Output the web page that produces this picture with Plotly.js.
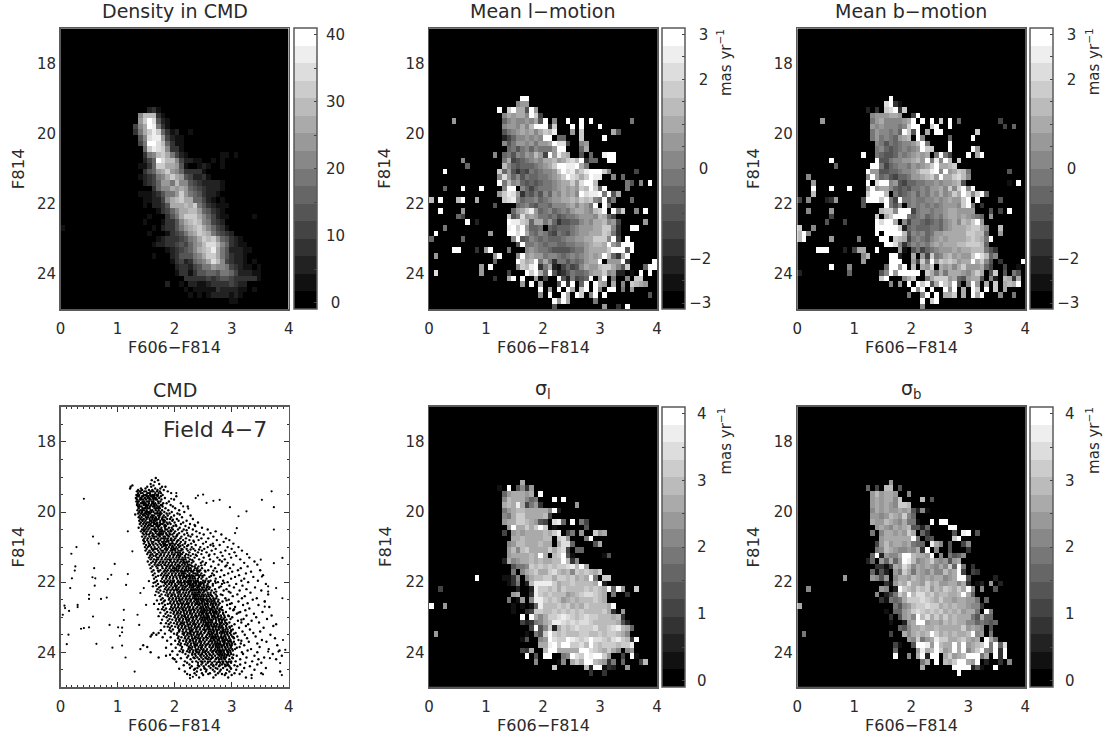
<!DOCTYPE html>
<html><head><meta charset="utf-8">
<script src="https://cdn.plot.ly/plotly-3.0.1.min.js"></script>
<style>html,body{margin:0;padding:0;background:#fff}</style></head>
<body><div id="chart" style="width:1113px;height:740px"></div>
<script>
// Each map row (0 = top): tokens alternate start column, then one hex digit per cell (grey band 0-15).
const densityRows = {14:"19 2310",15:"17 8bbb31",16:"17 9cfd521",17:"16 48afe731",18:"16 37acec631 25 2 28 1",19:"17 58dee94211",20:"17 47ffdb63 25 11",21:"18 6cedc8331",22:"18 378bca7421 35 1 36 1 38 1",23:"18 246fdbb842 28 2 29 11 33 1 35 1",
24:"17 113 20 6ccaa9 26 51 30 121 35 1",25:"18 3569ac98633331",
26:"17 12347 22 8aca9 27 54 29 2231",
27:"18 23469 23 97b8 27 85432222 35 1",
28:"20 3688a9a9 28 654 31 32221",
29:"17 1112357 24 79c97 29 6 30 53221",
30:"18 1122 22 48abcaa6 30 642 33 1 35 1",
31:"18 1 20 223 23 5aaaba 29 c75 32 32 34 111",
32:"21 1346 25 8aabb 30 96532 35 1",
33:"19 1 23 357 26 accca 31 8642 35 11 42 1",
34:"18 1 22 1335 26 8abcb 31 8743 35 2",
35:"0 1 20 1 22 2335 26 79abca 32 86 34 431",
36:"19 1 23 134 26 579ac 31 ba 33 75432",
37:"21 123334 27 578ac 32 bc 34 96532 39 1",
38:"20 1223 24 345 27 468 30 9bddb 35 863211",
39:"23 12345 28 68abc 33 ea 35 7522211",
40:"20 1 24 23555 29 78acc 34 a753221",
41:"24 13423 29 678ad 34 b84322 40 1 42 1",
42:"25 2332 29 45779 34 88 36 743211 43 1",
43:"25 1331 29 35566 34 577 37 6422 41 211",
44:"27 333334 33 34554 38 333331",
45:"23 2 26 1 28 2211 32 23333 37 43 39 22",
46:"27 1 29 11111 34 3222 38 211 42 1",
47:"28 1 30 1 32 12222 37 121",
48:"37 11"};
const meanLRows = {12:"20 ff",13:"19 899",14:"15 f0cfaa5f9",15:"16 8a9aa8fc4",16:"5 9 16 6898898a5f 27 8 30 f 33 f 35 f 44 7",17:"16 8998a8bfff3c 31 f 33 f 37 f",18:"16 5789a9a8acbe 31 9 33 c 40 a5",19:"16 246889898ff066 33 c 38 f",20:"16 8579989799afdd4 33 89",21:"17 67578687779f 29 f 33 6a",22:"14 806758798b94f9eba 33 506 38 eff",
23:"7 8 16 7a4567898aab9acdbf366 39 ff",24:"8 6 16 b865666789acffeefa7",
25:"3 f 15 c695354767889cfdeacefffc8 45 4",
26:"15 8d96857667789acfdcacfee 40 8 42 6",
27:"15 f7b89656567789aac9dffb 43 75 46 8 48 f",
28:"3 6 7 f 11 f 16 8ff0864677789a9a9cbfc6f 43 7",
29:"15 9ced9365758698a9a8fdeef7f5a",
30:"0 b 2 f 6 b 7 f 10 a 16 cde8677867899aabacbc87f47 44 6",
31:"14 5 19 678657768889a8a97f0f7",
32:"2 f 7 9 18 69ace967867879aa98bcf0f7c 45 8 47 f",
33:"6 64 17 c57d9a97767567789998ba64",
34:"8 f 10 2 17 feecb6aa79635566898aab894 47 9",
35:"3 7 17 efcf966706566678999aacc83 44 ff",
36:"1 f 13 9 17 ffdfa7687547657899aaacb73",
37:"0 6 7 6 18 8f56876766678899aaccc8f4 43 f",
38:"19 5f77876776677889abbaf97fff",
39:"5 ff 10 3 12 9f 17 7 21 89877655556779aaaacfff5f",
40:"1 9 14 9 15 f 19 8f9a997887678789a9afb63af",
41:"14 6 19 fcabf7a737757679aaf09 40 99f3 49 f",
42:"11 9 13 f 19 8cbef37a2146458a99bcca85c 47 6ff",
43:"1 d 11 9 17 4 21 fcfa6f52357667 35 9aac8922 44 1 46 f 48 f",
44:"14 3 17 af 20 f 23 9 25 4 27 0f52745 34 6f 37 9f 40 7 43 8 45 cc",
45:"20 9 22 f 24 a 27 0 28 5f 30 3f 33 6f 36 fa9 40 a 42 8 44 cba9",
46:"24 f 26 9 27 0f 30 f 31 a 33 cf 36 f8 39 ff 42 7 44 9",
47:"24 8 26 f 28 0f 30 a 32 fc 35 8f 38 f 48 5",
48:"27 f 28 9 29 f 30 a 36 7",
49:"27 5 38 9 41 3 43 f"};
const meanBRows = {12:"20 f",13:"19 df31",14:"15 2 17 3 19 cdf3 23 c",15:"16 8999aa9 25 4f",
16:"5 9 16 79a88889af0f 27 f 29 f 31 c 33 f 35 6 44 4",
17:"16 98988878cf 26 f 29 cf 33 f 45 4 47 6",
18:"16 7988786fc5f 28 a 30 ff 39 c",
19:"16 7978769ab0f8 33 6 38 f",
20:"17 875767889bf9 28 7 33 f",
21:"17 7865678789fcc 33 f 38 f9",
22:"14 f 17 765568789a9a07f7 33 4 37 f 39 af",
23:"7 f 16 0f5578899ab9f7e8fb9 34 0c",
24:"8 6 16 ff7467887989acfb 31 aab 34 c",
25:"15 f9955667889acc 29 ef8f9acb7 46 5",
26:"2 8 15 8f9675466799abc9faacdb8",
27:"3 9 15 f0dff 20 89 22 5466778 29 89899ab5 46 1 48 f",
28:"3 f 7 f 11 f 15 9f9aa 20 865657 26 78799a8c8cf8f",
29:"3 b 15 cfffb07567 25 86 27 87 29 98a89cafc8cf 41 6",
30:"0 4 2 8 6 23 8 9 14 5 15 fffcf 20 74f778 26 7 27 788989a99cf0f 44 5",
31:"14 5 19 f758078 26 7878 30 7899 34 98cf7 40 3",
32:"2 8 7 9 18 bcc8fff 25 478 28 878 31 89aa9 36 999 42 5 44 4 46 f",
33:"7 4 17 c0acfff76 26 786 29 7 30 87 32 9aa9a9876 42 9",
34:"6 5 10 4 17 fdffa08 24 4776 28 5676 32 89a8bacf9",
35:"0 c 3 8 17 fffffc26 25 76 27 6677 31 6 32 89aaabcca8 44 b",
36:"0 bf8 17 f0ffff 23 b58 26 78 28 679 31 9aaaaaccbb6 44 9",
37:"0 bf 7 9 13 7 18 ff0cb 23 a47 26 876 29 89a 32 9aaaabcba7f",
38:"19 ffd83 24 687 27 87 29 9a9 32 aaabbcccb6",
39:"4 fff 10 2 12 4 13 aa 17 f 22 91 25 57467 30 89 32 99a9aabbb753",
40:"14 8b 20 ff2 25 a09 28 4c7 31 8ab9a99cfdb68",
41:"14 9 20 fff 25 94 27 c7f 30 9cbcb9aafac85 44 3 49 f",
42:"7 f 11 8 19 6ff 22 9f 25 b0 27 a9c0 31 a9a8ac99 39 9a64 43 0 45 4 48 1",
43:"0 2 11 6 18 58f 21 9ff 24 ff 26 f0ca7 31 a7aaa98 38 aca 42 5c 45 5 47 75",
44:"17 0cf 23 8ac 27 07accc 33 9a65 37 9aa5 42 82 45 ba3a",
45:"20 8 22 9 24 f 26 fcf5af 32 ca 34 f5 37 8f9 41 a 43 c 45 abaf",
46:"25 f8f0f 32 f8f 36 a 38 fc 41 f 43 c 45 a",
47:"24 7 27 8f 30 f 32 aac 36 a 38 faf 44 8 47 7",
48:"27 f 29 cf",49:"27 8"};
const sigmaLRows = {13:"20 a",14:"15 1 17 f 19 583 22 9",15:"16 69aaa9a 24 f",16:"16 8baaa8 22 67 27 f 29 f",17:"16 abaea47 23 93 32 9",18:"16 79abbaaaaa8 27 f 28 2",19:"16 87acc 21 aaaab4",20:"16 9aaccba95 25 4 27 de6 31 f 33 7 34 4",21:"17 9fa 20 acacfc01 34 5",22:"16 4 18 9a9aaaaba 27 ce 30 4 31 7 33 9 36 c9 38 a",23:"18 aabaaaa 25 bb 27 0 28 cd 30 9 34 7f",24:"17 8 18 9bbaaab 25 aa 27 0a 29 ddb 31 6 36 5 37 a",25:"17 9b8 20 bcaaaa 26 ca 28 c 29 d 30 4 32 66",26:"17 9aa 20 aaba 24 fa 27 b 28 c 29 f 30 5 31 1 38 1 39 5",
27:"16 2 17 a89 20 aabab 25 aa 27 bb 29 f 30 b 31 3 32 8",
28:"18 57 20 7 21 8cbcbcbc 29 cde 32 bfa",
29:"18 7 20 8 21 abcaa 26 cd 28 bab 31 8 32 cbcb 36 a 37 c",
30:"10 f 16 11 18 3 19 8 21 8abbc 26 c 27 a 28 ccb 31 ca 33 b 34 a 35 f 36 7 38 cc",
31:"17 1 18 3 19 7 21 2 22 beeeec 28 abbcbbbba 37 f 38 2",
32:"2 4 19 2 22 2 23 eccbcac 30 bbbbcbcba 39 f 40 6 41 f 42 9 45 c",
33:"18 9a 22 3 23 ecbcbbb 30 9abcddcb 38 a 40 7 43 3",
34:"17 7 19 1 20 9 22 8 23 eecbcb 29 9abab 34 bbcb 38 a 39 0",
35:"0 f 3 9 18 1 20 1 22 1 23 6 24 ebbbcbc 31 abacbbb 38 ba 40 f",
36:"18 1 21 3 22 4 23 cc 25 bbcbcb 31 cbcbbbb 38 c 39 a 40 3 42 9",
37:"20 f0fa8ac 27 cdedcbc 34 dccbbb 40 ab 42 3",
38:"20 4 21 2 22 3 23 78ab 27 eedcdcd 34 dcbbbb 40 ba 42 52",
39:"22 4f58c2 28 acbcdcc 35 cdbbcdeb 43 a6",
40:"1 9 21 1 23 75cf 27 cbcbbb 33 ccbbcbcc 41 ba 43 8",
41:"20 1 21 5 24 89f 27 dccfedcdfddcbdecb 44 3 45 f",
42:"22 0 24 aaef 28 c 29 ffccdbfcbccca 41 bcce",
43:"20 43a 25 bffaaaaa 33 ffdcba 39 ca8 43 89",
44:"21 f 23 5 25 ff0 29 78 31 fdcfeffc9 42 4 44 f1",
45:"23 8 26 001 29 80acaffba 38 93 40 7 42 6 46 4b",
46:"27 c 34 b2ff 38 13 40 2 43 9",
47:"35 3 38 3"};
const sigmaBRows = {13:"20 9",14:"15 6 17 4 19 bb 22 5",15:"16 9b9aa9 24 8",16:"16 9a9aa8c 27 b 29 5",17:"16 9a9a9 21 8ccb",18:"16 8a9a99a 23 9a5 26 2 27 8 28 1",19:"16 9989 20 ba9c8 25 6",20:"16 a99b 20 a 21 98 23 a 24 77 26 1 27 00 29 f 31 f 32 f",
21:"17 9 18 a 19 98a9 23 ab 25 55 27 2 28 6 33 f 34 f",
22:"16 7 18 8aa9a9 24 c 25 a 27 6 28 3 34 5 36 e 37 f 39 5",
23:"18 9aaaaaa 25 f 26 7 28 4 29 5 34 c 35 f",
24:"17 4 18 9b9aa9a 25 7 26 6 27 6 29 ea9 31 8 33 5 36 4 37 8",
25:"17 7 18 8 19 ba 21 9 22 8 23 8 24 9 25 8 26 a 27 3 28 f 30 8 33 5 37 3",
26:"16 6 17 f 18 2 19 9 20 8 21 8 22 a 23 ff 25 b 26 a 27 a 28 9 29 f 31 8 33 7 34 5 35 6 36 8",
27:"15 2 16 6 18 9 19 6 20 a 21 6 22 9 23 fe 25 b8 27 9a 29 c9 31 89 33 59 35 a",
28:"17 331 20 4a9d 24 b8a9 28 a9 30 8a8c 34 6f7 38 3",
29:"16 615 19 2 21 97c 24 a7a9 28 8a 30 88b9 34 af4 38 43",
30:"10 9 16 9859 21 8aa9 25 ba9a 29 9aa 32 89a 35 ff5 43 2",
31:"19 31 21 9bad 25 aa9c 29 ab9 32 9aa8 36 a3 39 12 42 9 44 2",
32:"2 8 18 98 21 2fcb 25 acbc 29 9ba 32 cbac 36 af8 40 8 43 5",
33:"17 8 19 247c 23 afbd 27 dbca 31 bba 34 abfa6",
34:"18 31 20 767a 24 cccdcb 30 ac 32 aa9a 36 a997 41 6",
35:"0 a 21 7589 25 bccdcc 31 aba 34 baa 37 9883",
36:"19 1 21 6 22 69 24 acd 27 cbcbc 32 ab 34 ab9aa 39 7 41 f7",
37:"20 3 22 59a8 26 fbdac 31 acabaa 37 a75a66",
38:"20 1 23 29a 26 ff9 29 aa9 32 bab 35 aa88 39 67654 43 6",
39:"22 6589 25 aab 28 aaba 32 aaaa 36 c9a 39 98 42 5",
40:"1 7 20 4 23 a8ab 27 abf 30 cabab 35 aabf 39 89 42 7",
41:"24 98c 27 79ae 31 cca 34 abca9a 41 fa7",
42:"21 41 25 5ffe 29 9fba 33 af 35 af 37 9abcf 42 7f6d",
43:"21 6 26 9eab 30 fc9 33 afaf 37 8acf 41 87f3f",
44:"21 f 24 8 26 af2f 30 f0 32 ac9ab 37 fff7a 43 f3f",
45:"27 7a 30 f 32 bacff 37 a9f 41 2 44 3 46 8",
46:"27 a 34 ffff 38 2 39 51 43 f",
47:"35 f"};

const colourBands = [0,17,34,51,68,85,102,119,136,153,170,187,204,221,238,255];
const xTicks = [0,1,2,3,4];
const yTicks = [18,20,22,24];
const densityTicks = [0,5,10,15,20,25,30,35,40];
const densityLabels = ["\u00a0\u00a00","","\u00a010","","\u00a020","","\u00a030","","\u00a040"];
const meanTicks = [-3,-2.5,-2,-1.5,-1,-0.5,0,0.5,1,1.5,2,2.5,3];
const meanLabels = ["−3","","−2","","","","\u00a0\u00a00","","","","\u00a0\u00a02","","\u00a0\u00a03"];
const sigmaTicks = [0,0.5,1,1.5,2,2.5,3,3.5,4];
const sigmaLabels = ["\u00a0\u20090","","\u00a0\u20091","","\u00a0\u20092","","\u00a0\u20093","","\u00a0\u20094"];

// Colour magnitude diagram: "y: x-values in hundredths"
const cmdRows = [
"19.03: 167","19.09: 160 171","19.14: 165","19.2: 158 173","19.24: 126 163","19.28: 123 152 159 178 184","19.33: 122 141 149 166 175","19.37: 136 143 155 161 170 181",
"19.41: 134 139 140 147 150 158 161 163 169 174 188","19.46: 136 141 144 152 155 157 166 172 176 194","19.51: 133 135 138 146 149 151 157 161 164 168 171 179","19.55: 135 137 143 145 151 154 159 160 164 170 176 203","19.6: 132 133 140 142 148 153 156 162 165 167 173 183",
"19.64: 134 139 141 145 150 156 158 163 167 169 177 199","19.7: 133 136 137 144 147 152 155 160 163 171 175 190","19.75: 135 141 143 146 149 155 161 162 166 172 180 186 211","19.8: 134 138 146 148 151 154 159 164 168 176 178 193","19.84: 136 139 142 150 152 157 162 165 170 173 179 197 223","19.89: 137 144 147 149 153 156 165 168 171 174 184 201",
"19.95: 135 140 143 146 151 158 161 167 172 178 189 208","20: 138 143 149 152 155 159 163 170 175 182 195 217","20.04: 136 141 147 150 155 157 166 169 173 177 186 191 205","20.1: 139 145 148 154 160 161 164 171 174 181 188 199 228","20.15: 137 142 150 153 158 162 167 173 179 184 194 213","20.2: 140 146 151 156 161 165 168 172 178 187 192 204 232",
"20.25: 138 144 149 157 159 163 166 175 180 183 196 207 221","20.3: 141 147 152 155 160 164 169 174 181 186 191 200 215 241","20.34: 139 145 150 158 164 167 170 176 179 188 193 211 227","20.4: 142 148 153 159 162 168 171 173 182 185 198 203 219 236","20.45: 137 146 151 156 165 171 177 183 190 195 209 225 248","20.5: 143 149 154 160 163 167 172 175 184 187 197 206 216 232 258",
"20.55: 141 147 152 158 166 169 174 178 182 189 194 201 213 238 272","20.6: 144 150 157 161 167 173 176 180 185 191 199 208 222 244 263","20.64: 146 151 155 163 170 172 176 179 186 192 196 205 217 231 251 282","20.7: 143 149 156 162 165 168 174 181 183 190 198 203 212 228 239 268","20.75: 147 153 159 164 171 177 180 184 188 194 201 210 220 247 259 290",
"20.8: 145 152 158 166 169 175 182 187 193 195 199 207 215 226 242 274 296","20.85: 148 154 160 163 172 178 181 185 189 196 204 211 219 234 255 286","20.9: 146 155 161 167 174 180 183 191 194 197 202 209 218 229 250 267 303","20.94: 150 157 163 170 176 181 184 187 192 200 206 214 224 237 263 279","21: 148 153 159 165 172 178 185 190 195 198 203 208 217 230 245 258 293 312",
"21.05: 151 160 166 169 175 183 188 194 199 201 205 212 221 233 252 272 300","21.1: 149 156 162 171 177 180 186 193 196 201 207 211 223 236 248 265 289 318","21.15: 154 158 165 173 179 184 190 196 202 205 209 215 226 241 256 281 305","21.2: 152 161 168 170 176 182 189 195 200 206 210 213 220 232 247 270 296 327","21.25: 157 163 167 174 181 187 192 198 204 208 210 218 228 239 260 284 308",
"21.3: 155 160 169 172 178 185 191 197 203 208 214 219 224 235 251 275 299 331","21.35: 158 164 171 177 183 188 194 200 207 212 216 219 227 243 262 288 315","21.41: 153 162 168 175 180 186 193 199 205 211 216 221 225 233 249 268 283 340","21.45: 159 166 173 179 184 190 196 202 209 215 218 222 230 246 255 293 322","21.5: 156 165 170 176 182 189 195 201 206 213 218 223 226 237 253 277 303 345",
"21.55: 161 168 178 187 192 198 204 207 210 216 221 224 231 235 242 264 289 328","21.6: 158 170 179 185 191 197 200 203 208 214 220 225 228 236 240 248 271 297 316","21.66: 163 175 183 188 194 200 203 206 212 218 221 225 229 234 239 245 259 282 311 350","21.7: 160 172 181 186 193 199 205 211 214 217 223 229 232 240 243 254 274 301 334","21.75: 165 178 184 190 196 202 208 213 216 219 226 233 236 240 247 266 294 325",
"21.8: 162 176 182 188 195 201 207 212 216 222 226 230 238 241 245 252 269 287 313 355","21.85: 167 180 186 192 198 203 209 215 218 221 227 231 235 243 249 261 280 306 338","21.9: 164 178 185 191 197 204 210 214 220 225 228 232 236 241 247 256 272 299 322","21.96: 169 182 188 193 199 206 211 217 223 226 229 233 237 240 250 254 263 285 317 346","22: 166 179 186 192 198 205 209 216 221 224 228 234 237 242 246 253 260 276 293 329",
"22.05: 171 184 190 195 201 207 212 218 224 227 231 233 238 243 246 251 258 267 283 308 360","22.1: 168 181 187 194 200 204 211 215 222 227 230 233 237 241 245 251 256 267 296 319","22.15: 173 185 191 197 203 208 214 219 226 230 232 239 242 248 252 257 262 278 304 341","22.2: 170 183 189 196 202 206 213 217 223 229 233 236 240 244 249 255 260 271 291 326","22.24: 175 187 193 199 204 210 216 221 228 231 234 238 242 247 252 256 265 286 314 352",
"22.3: 172 186 192 198 205 209 215 220 225 231 235 237 241 245 250 258 263 269 298 333","22.35: 177 189 195 200 207 212 218 224 230 233 235 239 243 248 254 259 263 272 281 310 364","22.4: 174 188 194 201 206 211 217 222 227 233 236 240 244 247 251 256 260 266 274 302 323","22.46: 179 191 197 203 208 214 220 226 232 235 238 242 246 250 256 262 268 273 289 318 344","22.5: 176 190 196 202 209 213 219 223 229 236 238 241 245 250 253 259 264 270 277 295 337",
"22.55: 181 193 199 204 210 216 222 228 234 239 242 248 251 257 261 265 270 276 284 312 358","22.6: 178 192 198 205 211 215 221 225 231 237 240 244 248 253 258 264 268 272 279 300 328","22.65: 183 195 201 207 213 218 224 230 236 242 244 249 253 258 263 267 272 277 292 320 347","22.71: 180 194 200 206 212 217 223 227 233 240 246 250 255 259 266 269 275 283 306 366","22.75: 185 197 203 209 214 220 226 232 238 244 247 251 256 261 265 270 275 280 297 331",
"22.8: 182 196 202 208 215 219 225 229 235 241 247 251 254 258 263 267 272 278 284 303 324","22.85: 187 199 205 211 216 222 228 234 240 245 249 252 256 262 267 271 274 279 290 315 354","22.9: 184 198 204 210 217 221 227 231 237 243 248 250 255 258 264 269 273 277 285 309 339","22.95: 189 201 207 213 218 224 230 236 242 246 251 256 259 265 270 276 281 287 294 326 370","23: 186 200 206 212 219 223 229 233 239 246 250 253 257 260 266 271 275 282 288 301 343",
"23.05: 191 203 209 215 220 226 232 238 244 249 253 257 261 268 272 277 280 286 298 321 362","23.1: 188 202 208 214 221 225 231 235 241 247 251 254 259 263 266 273 278 283 288 311 335","23.15: 193 205 211 217 222 228 234 240 246 251 255 259 262 266 272 279 283 289 296 317 348","23.2: 190 204 210 216 223 227 233 237 243 250 255 259 264 269 275 280 286 292 305 329 378","23.25: 195 207 213 219 224 230 236 242 248 253 257 261 265 270 273 279 283 290 300 325 373",
"23.3: 192 206 212 218 225 229 235 239 245 252 258 261 267 272 277 281 285 291 297 313 356","23.35: 197 209 215 221 226 232 238 244 250 256 260 263 267 272 278 284 289 293 302 332","23.41: 194 208 214 220 227 231 237 241 247 254 260 264 269 274 281 285 289 293 299 319 350","23.45: 163 172 205 217 223 228 234 240 246 252 259 265 268 274 279 283 287 292 297 307 338","23.5: 160 168 204 216 222 229 233 239 243 249 257 262 266 271 275 282 288 293 299 323 368",
"23.55: 158 207 219 225 230 236 242 248 255 261 265 268 272 276 281 286 289 295 301 310 342","23.6: 206 218 224 231 235 241 245 251 258 264 268 273 278 283 285 290 296 304 327 376","23.65: 209 221 227 232 238 244 250 256 263 268 270 275 278 284 288 292 298 312 353","23.7: 208 220 226 233 237 243 247 253 260 266 271 275 280 285 288 294 299 304 330 361","23.75: 211 223 229 234 240 246 252 259 265 270 274 277 280 287 291 296 301 316 345",
"23.8: 145 210 222 228 235 239 245 249 255 262 268 273 277 282 286 292 297 300 322 380","23.85: 152 213 225 231 236 242 248 254 261 267 272 275 279 283 288 293 299 314 349","23.91: 140 212 224 230 237 241 247 251 257 264 271 275 279 284 290 295 301 306 334 365","23.95: 215 227 233 238 244 250 256 263 269 276 280 284 287 292 297 302 328 384","24: 158 214 226 232 239 243 249 253 259 266 273 278 281 286 293 298 318 345",
"24.05: 219 231 236 242 248 255 261 268 275 280 284 288 294 299 320 372","24.1: 185 224 237 245 251 257 265 271 279 283 287 291 296 309 340 388","24.15: 172 222 233 240 247 254 260 267 276 281 286 290 301 326 357","24.2: 200 228 243 250 258 263 272 278 282 288 296 315 347 378","24.26: 218 238 246 253 262 270 278 284 290 299 307 336",
"24.3: 222 241 249 258 266 274 280 285 292 299 324 352","24.35: 226 247 255 264 273 283 288 294 315 345","24.4: 230 243 251 260 268 278 289 296 310 332","24.45: 227 240 252 263 272 285 298 322 360","24.5: 234 246 256 267 281 292 308 340","24.55: 218 239 255 270 279 296 318 385","24.6: 235 248 262 276 290 305 352","24.65: 227 250 272 288 300 335","24.72: 243 268 294 325",
// second pass of stars read between the rows above
"20.07: 144 175 152 209 131","20.22: 169 143 197 181","20.37: 155 183 174 235 202","20.52: 178 146 193 221 165","20.67: 188 161 224 204 173","20.82: 172 205 189 146 233","20.97: 210 155 222 196 181 268",
"21.07: 186 214 163 228 197 243","21.22: 199 176 224 158 237 261","21.37: 215 192 168 231 205 279","21.52: 229 208 184 247 172 194 291","21.67: 219 196 171 242 253 207 268","21.82: 233 186 210 171 249 224 264","21.97: 241 176 218 197 259 155 271 228",
"22.02: 183 249 212 163 236 272 195 287","22.12: 243 202 176 259 219 162 281 234","22.27: 181 252 226 168 208 273 243 295","22.37: 264 196 184 237 218 166 284 251","22.52: 169 247 208 183 268 228 291 256","22.62: 257 188 173 221 273 239 207 297 164","22.77: 178 263 214 192 281 233 251 304 171",
"22.87: 193 248 175 227 269 285 206 261 312","22.97: 181 259 217 193 277 238 295 172 268","23.07: 196 264 178 224 248 283 208 291 317","23.17: 185 272 213 199 256 233 291 176 281","23.27: 201 259 182 241 277 219 296 268 188","23.37: 176 268 208 253 285 229 191 299 275","23.47: 183 274 214 245 292 199 261 226 304",
"23.57: 193 266 179 237 282 212 303 255 271","23.67: 201 284 187 228 263 244 296 215 317","23.77: 194 279 206 257 236 292 218 306 273 286","23.87: 202 289 185 246 265 227 298 309 276","23.97: 196 281 209 254 238 293 222 273 267","24.07: 205 277 192 246 262 292 231 283 303","24.17: 211 286 197 255 235 273 302 265","24.27: 203 259 285 231 277 248 295","24.37: 216 268 241 292 279 305","24.47: 208 275 253 299 236","24.62: 222 283 259 314"];
// Sparse stars away from the main sequence
const cmdStarX = [.41,.57,.67,.28,.19,.26,.25,.59,.2,.56,.61,.89,.83,.95,.17,.6,.5,.5,.71,.81,.3,.3,.07,.08,.15,.04,.57,1.11,.36,.41,.5,.86,1.01,1.08,1.04,1.08,.14,.11,.63,.91,1.08,1.14,1.3,1.15,1.18,1.26,1.18,1.11,1.38,1.35,1.4,1.46,1.5,3.7,3.53,3.74,3.74,3.51,3.74,3.89,3.53,3.64,3.78,3.64,3.89,3.58,3.58,3.88,3.55,3.35,2.27,2.32,2.38,3.26,3.12,3.09,3.06,2.97,2.79,2.68,2.5,2.41,2.37,2.56,2.24,2.15,2.03,1.94,3.9,3.94,3.82,3.64,3.67,3.85];
const cmdStarY = [19.62,20.7,20.9,21,21.19,21.55,21.67,21.6,21.89,21.86,21.89,21.79,21.91,21.48,22.17,22.1,22.36,22.48,22.48,22.44,22.65,22.71,22.67,22.74,22.82,22.93,22.98,22.79,23.33,23.31,23.29,23.22,23.29,23.3,23.53,23.43,23.5,23.77,23.76,23.87,23.81,24.15,24.55,22.08,20.55,21.12,21.77,23.08,23.22,22.93,22.31,22.17,22.65,19.41,19.65,19.86,20.5,21.36,21.46,21.31,21.84,22.12,22.17,22.27,22.46,22.55,22.7,24.65,24.63,24.74,24.74,24.7,24.65,19.98,20.12,20.46,20.6,19.86,19.65,19.68,19.5,19.53,19.6,19.74,19.9,19.84,19.46,19.62,23.65,23.93,23.98,23.98,24.17,24.31];

const W=1113,H=740;
function decode(rows){
  const z=[];
  for(let r=0;r<50;r++){
    const a=new Array(50).fill(0);
    const t=(rows[r]||"").trim().split(/\s+/).filter(Boolean);
    for(let i=0;i+1<t.length;i+=2){
      const s=parseInt(t[i],10);
      for(let k=0;k<t[i+1].length;k++){const v=parseInt(t[i+1][k],16); if(s+k<50&&!isNaN(v)) a[s+k]=v;}
    }
    z.push(a);
  }
  return z;
}
const scale=[];
colourBands.forEach((g,k)=>{const c=`rgb(${g},${g},${g})`;scale.push([k/16,c]);scale.push([(k+1)/16,c]);});
const colX=[[60.5,288.7,293.5],[429,657,661.7],[797.3,1025.3,1030]];
const rowY=[[28.3,309.3],[406.9,687.3]];
const font="DejaVu Sans", ink="#2a2a2a", edge="#5a5a5a";
const data=[],layout={width:W,height:H,margin:{l:0,r:0,t:0,b:0,autoexpand:false},paper_bgcolor:"#fff",plot_bgcolor:"#fff",showlegend:false,font:{family:font,size:15,color:ink},annotations:[]};
function note(text,x,y,size,angle){layout.annotations.push({text,xref:"paper",yref:"paper",x:x/W,y:1-y/H,xanchor:"center",yanchor:"middle",showarrow:false,textangle:angle||0,font:{family:font,size:size||15,color:ink}});}
function panel(i,c,r,title){
  const [x0,x1]=colX[c],[y0,y1]=rowY[r],n=i===1?"":i;
  layout["xaxis"+n]={domain:[x0/W,x1/W],range:[0,4],anchor:"y"+n,tickvals:xTicks,ticks:"",showgrid:false,zeroline:false,showline:true,linecolor:edge,linewidth:1.5,mirror:true,ticklabelstandoff:5,tickfont:{size:15}};
  layout["yaxis"+n]={domain:[1-y1/H,1-y0/H],range:[25,17],anchor:"x"+n,tickvals:yTicks,ticks:"",showgrid:false,zeroline:false,showline:true,linecolor:edge,linewidth:1.5,mirror:true,tickfont:{size:15}};
  note(title,(x0+x1)/2,y0-17,19);
  note("F606−F814",(x0+x1)/2,y1+38,16);
  note("F814",x0-(c===0?42:44),(y0+y1)/2,16.5,-90);
}
function heat(i,c,r,rows,zmin,zmax,tv,tt,title,unit){
  const n=i===1?"":i,st=(zmax-zmin)/16;
  const z=decode(rows).map(a=>a.map(v=>zmin+(v+0.5)*st));
  const [,,cb]=colX[c],[y0,y1]=rowY[r];
  data.push({type:"heatmap",z,x0:0.04,dx:0.08,y0:17.08,dy:0.16,xaxis:"x"+n,yaxis:"y"+n,zmin,zmax,colorscale:scale,hoverinfo:"skip",
    colorbar:{x:cb/W,xanchor:"left",y:1-(y0+y1)/2/H,yanchor:"middle",len:(y1-y0)/H,lenmode:"fraction",thickness:23,thicknessmode:"pixels",xpad:0,ypad:0,outlinecolor:edge,outlinewidth:1.5,ticks:"inside",ticklen:3,tickcolor:"#444",tickwidth:1,tickvals:tv,ticktext:tt,tickfont:{family:font,size:15,color:ink}}});
  panel(i,c,r,title);
  if(unit) note("mas yr<sup>−1</sup>",colX[c][2]+63,y0+34,15,-90);
}
heat(1,0,0,densityRows,-1,41,densityTicks,densityLabels,"Density in CMD");
heat(2,1,0,meanLRows,-3.14,3.14,meanTicks,meanLabels,"Mean l−motion",true);
heat(3,2,0,meanBRows,-3.14,3.14,meanTicks,meanLabels,"Mean b−motion",true);
heat(5,1,1,sigmaLRows,-0.1,4.1,sigmaTicks,sigmaLabels,"σ<sub>l</sub>",true);
heat(6,2,1,sigmaBRows,-0.1,4.1,sigmaTicks,sigmaLabels,"σ<sub>b</sub>",true);
// CMD panel
const cx=[],cy=[];
cmdRows.forEach(s=>{const [y,l]=s.split(":");l.trim().split(/\s+/).forEach(v=>{cx.push(+v/100);cy.push(+y);});});
data.push({type:"scatter",mode:"markers",x:cx,y:cy,xaxis:"x4",yaxis:"y4",marker:{color:"#000",size:2.4},hoverinfo:"skip"});
data.push({type:"scatter",mode:"markers",x:cmdStarX,y:cmdStarY,xaxis:"x4",yaxis:"y4",marker:{color:"#000",size:2.2},hoverinfo:"skip"});
panel(4,0,1,"CMD");
Object.assign(layout.xaxis4,{ticks:"inside",ticklen:5,tickcolor:"#333",mirror:"ticks",minor:{dtick:0.1,ticks:"inside",ticklen:2,tickcolor:"#333"}});
Object.assign(layout.yaxis4,{ticks:"inside",ticklen:5,tickcolor:"#333",mirror:"ticks",minor:{tickvals:[17.5,18.5,19,19.5,20.5,21,21.5,22.5,23,23.5,24.5],ticks:"inside",ticklen:2,tickcolor:"#333"}});
layout.annotations.push({text:"Field 4−7",xref:"paper",yref:"paper",x:215/W,y:1-429/H,xanchor:"center",yanchor:"middle",showarrow:false,font:{family:font,size:22,color:ink}});
Plotly.newPlot("chart",data,layout,{displayModeBar:false,staticPlot:true});
</script></body></html>
